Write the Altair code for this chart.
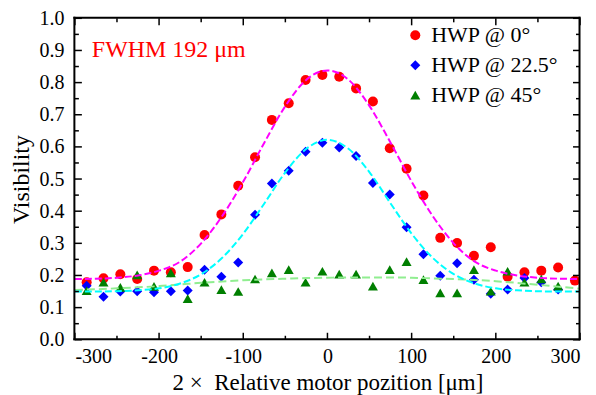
import altair as alt
import pandas as pd

# ---- data ----
x_pos = [-286, -266, -246, -226, -206, -186, -166, -146, -126, -106, -86, -66, -46, -26, -6,
         14, 34, 54, 74, 94, 114, 134, 154, 174, 194, 214, 234, 254, 274, 294]
red_vis = [0.179, 0.191, 0.204, 0.189, 0.215, 0.210, 0.226, 0.326, 0.390, 0.479, 0.568, 0.684,
           0.736, 0.808, 0.824, 0.818, 0.782, 0.741, 0.596, 0.532, 0.449, 0.317, 0.301, 0.261,
           0.288, 0.196, 0.210, 0.215, 0.225, 0.184]
blue_x = [-286, -266, -246, -226, -206, -186, -166, -146, -126, -106, -86, -66, -46, -26, -6,
          14, 34, 54, 74, 94, 114, 134, 154, 174, 194, 214, 234, 254, 274]
blue_vis = [0.168, 0.134, 0.150, 0.151, 0.148, 0.151, 0.153, 0.218, 0.196, 0.240, 0.389, 0.486,
            0.526, 0.585, 0.613, 0.598, 0.572, 0.488, 0.452, 0.350, 0.266, 0.199, 0.238, 0.187,
            0.143, 0.156, 0.192, 0.179, 0.156]
green_x = [-286, -266, -246, -226, -206, -186, -166, -146, -126, -106, -86, -66, -46, -26, -6,
           14, 34, 54, 74, 94, 114, 134, 154, 174, 194, 214, 234, 254, 274]
green_vis = [0.153, 0.179, 0.163, 0.202, 0.166, 0.208, 0.128, 0.179, 0.156, 0.150, 0.189, 0.208,
             0.218, 0.179, 0.213, 0.204, 0.204, 0.167, 0.218, 0.243, 0.187, 0.146, 0.146, 0.218,
             0.151, 0.213, 0.179, 0.189, 0.167]

series_names = ["HWP @ 0°", "HWP @ 22.5°", "HWP @ 45°"]
series_colors = ["#ff0000", "#0000ff", "#007f00"]
series_shapes = ["circle", "diamond", "triangle-up"]

fit_x = [-300, -275, -250, -225, -200, -175, -150, -125, -100, -75, -50, -25, 0,
         25, 50, 75, 100, 125, 150, 175, 200, 225, 250, 275, 300]
magenta_fit = [0.189, 0.190, 0.193, 0.200, 0.215, 0.243, 0.300, 0.385, 0.492, 0.613, 0.727,
               0.809, 0.838, 0.809, 0.727, 0.613, 0.492, 0.385, 0.300, 0.243, 0.215, 0.200,
               0.193, 0.190, 0.189]
cyan_fit = [0.150, 0.150, 0.151, 0.154, 0.160, 0.175, 0.204, 0.255, 0.330, 0.424, 0.521, 0.594,
            0.622, 0.594, 0.521, 0.424, 0.330, 0.255, 0.204, 0.175, 0.160, 0.154, 0.151, 0.150,
            0.150]
green_fit = [0.155, 0.157, 0.160, 0.163, 0.167, 0.172, 0.177, 0.181, 0.185, 0.188, 0.190, 0.192,
             0.193, 0.194, 0.194, 0.194, 0.193, 0.191, 0.189, 0.186, 0.182, 0.177, 0.171, 0.165,
             0.159]

x_major = [-300, -200, -100, 0, 100, 200, 300]
x_minor = [-250, -150, -50, 50, 150, 250]
y_major = [0.0, 0.1, 0.2, 0.3, 0.4, 0.5, 0.6, 0.7, 0.8, 0.9, 1.0]
y_minor = [0.05, 0.15, 0.25, 0.35, 0.45, 0.55, 0.65, 0.75, 0.85, 0.95]

annotation = "FWHM 192 μm"
x_title = "2 ×\u00a0\u00a0Relative motor pozition [μm]"
y_title = "Visibility"

W, H = 506, 322
FONT = "Liberation Serif, Times New Roman, DejaVu Serif, serif"

xs = alt.Scale(domain=[-300, 300], nice=False, zero=False)
ys = alt.Scale(domain=[0, 1], nice=False, zero=False)
x_axis = alt.Axis(values=x_major, labelExpr="'' + datum.value", ticks=False,
                  domain=False, grid=False, labelFontSize=20, labelPadding=7,
                  titleFontSize=23, titlePadding=5, labelFont=FONT, titleFont=FONT,
                  titleFontWeight="normal", labelColor="black", titleColor="black")
y_axis = alt.Axis(values=y_major, format=".1f", ticks=False, domain=False, grid=False,
                  labelFontSize=20, labelPadding=11, titleFontSize=24, titlePadding=5,
                  labelFont=FONT, titleFont=FONT, titleFontWeight="normal",
                  labelColor="black", titleColor="black")


def X(field):
    return alt.X(field, scale=xs, title=x_title, axis=x_axis)


def Y(field):
    return alt.Y(field, scale=ys, title=y_title, axis=y_axis)


# ---- tables ----
pts = pd.concat([
    pd.DataFrame({"x": x_pos, "v": red_vis, "s": series_names[0]}),
    pd.DataFrame({"x": blue_x, "v": blue_vis, "s": series_names[1]}),
    pd.DataFrame({"x": green_x, "v": green_vis, "s": series_names[2]}),
], ignore_index=True)
pts["o"] = range(len(pts))

leg = alt.Legend(title=None, orient="none", legendX=330, legendY=6,
                 labelFont=FONT, labelFontSize=22, labelColor="black",
                 symbolSize=100, rowPadding=8, labelOffset=5,
                 symbolStrokeWidth=0, padding=0)

points = alt.Chart(pts).mark_point(filled=True, size=100, opacity=1).encode(
    x=X("x:Q"),
    y=Y("v:Q"),
    color=alt.Color("s:N", scale=alt.Scale(domain=series_names, range=series_colors), legend=leg),
    shape=alt.Shape("s:N", scale=alt.Scale(domain=series_names, range=series_shapes), legend=leg),
    order=alt.Order("o:Q"),
)


def fit_layer(vals, color, dash, width):
    df = pd.DataFrame({"x": fit_x, "v": vals})
    return alt.Chart(df).mark_line(color=color, strokeDash=dash, strokeWidth=width,
                                   interpolate="monotone").encode(x=X("x:Q"), y=Y("v:Q"))


green_line = fit_layer(green_fit, "#90ee90", [8, 4], 2)
cyan_line = fit_layer(cyan_fit, "#00ffff", [7, 3], 2)
mag_line = fit_layer(magenta_fit, "#ff00ff", [7, 3], 2)


def xticks(vals, y0, y1):
    return alt.Chart(pd.DataFrame({"x": vals})).mark_rule(color="black", strokeWidth=1.5).encode(
        x=X("x:Q"), y=alt.value(y0), y2=alt.value(y1))


def yticks(vals, x0, x1):
    return alt.Chart(pd.DataFrame({"v": vals})).mark_rule(color="black", strokeWidth=1.5).encode(
        y=Y("v:Q"), x=alt.value(x0), x2=alt.value(x1))


ticks = [
    xticks(x_major, H, H - 7), xticks(x_minor, H, H - 4),
    xticks(x_major, 0, 7), xticks(x_minor, 0, 4),
    yticks(y_major, 0, 7), yticks(y_minor, 0, 4),
    yticks(y_major, W, W - 7), yticks(y_minor, W, W - 4),
]

# plot frame (black box), offset by half a pixel so the 2px stroke is crisp
frame_df = pd.DataFrame({"k": [0]})
frame = [
    alt.Chart(frame_df).mark_rule(color="black", strokeWidth=2).encode(
        x=alt.value(-1.5), x2=alt.value(W + 0.5), y=alt.value(-0.5)),
    alt.Chart(frame_df).mark_rule(color="black", strokeWidth=2).encode(
        x=alt.value(-1.5), x2=alt.value(W + 0.5), y=alt.value(H - 0.5)),
    alt.Chart(frame_df).mark_rule(color="black", strokeWidth=2).encode(
        y=alt.value(-1.5), y2=alt.value(H + 0.5), x=alt.value(-0.5)),
    alt.Chart(frame_df).mark_rule(color="black", strokeWidth=2).encode(
        y=alt.value(-1.5), y2=alt.value(H + 0.5), x=alt.value(W - 0.5)),
]

note = alt.Chart(pd.DataFrame({"t": [annotation]})).mark_text(
    align="left", baseline="middle", font=FONT, fontSize=24, color="#ff0000"
).encode(text="t:N", x=alt.value(17), y=alt.value(32))

chart = alt.layer(points, green_line, cyan_line, mag_line, *ticks, *frame, note).properties(
    width=W, height=H,
    autosize=alt.AutoSizeParams(type="none"),
    padding={"left": 67, "top": 10, "right": 8, "bottom": 55},
    background="white",
).configure_view(stroke=None)

chart.save("out.html", embed_options={"renderer": "svg", "actions": False})
